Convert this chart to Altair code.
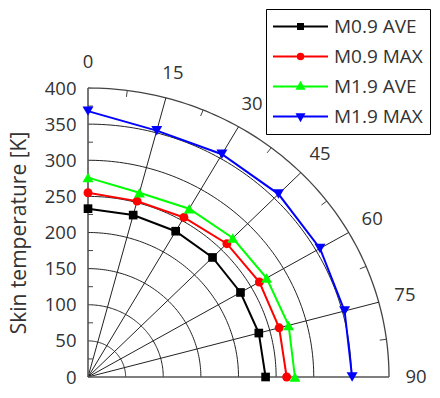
import altair as alt
import pandas as pd
import numpy as np

# ---- data ----
angles = [0, 15, 30, 45, 60, 75, 90]
series_names = ["M0.9 AVE", "M0.9 MAX", "M1.9 AVE", "M1.9 MAX"]
m09_ave = [233, 232, 233, 234, 234, 235, 236]
m09_max = [255, 252, 255, 261, 263, 263, 264]
m19_ave = [276, 264, 269, 272, 274, 276, 275]
m19_max = [368, 353, 356, 358, 356, 353, 351]
series_colors = ["#000000", "#ff0000", "#00ff00", "#0000ff"]
series_shapes = ["square", "circle", "triangle-up", "triangle-down"]
series_sizes = [75, 80, 120, 120]
radial_ticks = [0, 50, 100, 150, 200, 250, 300, 350, 400]
angle_ticks = [0, 15, 30, 45, 60, 75, 90]
minor_angles = [7.5, 22.5, 37.5, 52.5, 67.5, 82.5]
minor_radii = [25, 75, 125, 175, 225, 275, 325, 375]
legend_paths = [
    "M-3,0H3M-0.27,-0.27H0.27V0.27H-0.27Z",
    "M-3,0H3M0.3,0A0.3 0.3 0 1 1 -0.3,0A0.3 0.3 0 1 1 0.3,0Z",
    "M-3,0H3M0,-0.4L0.36,0.24L-0.36,0.24Z",
    "M-3,0H3M0,0.4L0.36,-0.24L-0.36,-0.24Z",
]

FONT = "Open Sans"
TXT = "#333333"
RMAX = 400

series_df = pd.DataFrame(
    [
        {"series": n, "a": a, "r": v}
        for n, vals in zip(series_names, [m09_ave, m09_max, m19_ave, m19_max])
        for a, v in zip(angles, vals)
    ]
)

arc_steps = list(np.arange(0, 90.01, 1.0))
inner_circ = pd.DataFrame([{"r": r, "a": a} for r in radial_ticks[1:-1] for a in arc_steps])
outer_circ = pd.DataFrame([{"r": RMAX, "a": a} for a in arc_steps])
spokes = pd.DataFrame([{"a": a, "r": r} for a in angle_ticks[1:-1] for r in (0, RMAX)])
axes_lines = pd.DataFrame([{"a": a, "r": r} for a in (0, 90) for r in (0, RMAX)])
arc_ticks = pd.DataFrame([{"a": a, "r": RMAX - 9, "r2": RMAX} for a in minor_angles])
left_ticks = pd.DataFrame({"r": minor_radii})
angle_labels = pd.DataFrame({"a": angle_ticks, "r": [436] * len(angle_ticks),
                             "label": [str(a) for a in angle_ticks]})

polar = dict(px="datum.r * sin(datum.a * PI / 180)", py="datum.r * cos(datum.a * PI / 180)")

xs = alt.Scale(domain=[0, RMAX], nice=False, zero=False)
ys = alt.Scale(domain=[0, RMAX], nice=False, zero=False)

yaxis = alt.Axis(
    values=radial_ticks, grid=False, domain=False, ticks=False, tickSize=0,
    labelFont=FONT, labelFontSize=18.5, labelColor=TXT, labelPadding=12,
    title="Skin temperature [K]", titleFont=FONT, titleFontSize=21,
    titleFontWeight="normal", titleColor=TXT, titlePadding=15,
)

X = alt.X("px:Q", scale=xs, axis=None)
Y = alt.Y("py:Q", scale=ys, axis=yaxis)

legend = alt.Legend(
    title=None, orient="none", legendX=178, legendY=-79,
    labelFont=FONT, labelFontSize=19, labelColor=TXT,
    symbolSize=336, symbolStrokeWidth=2, symbolOffset=17, labelOffset=23,
    symbolOpacity=1, rowPadding=9, padding=7,
    strokeColor="#000000", fillColor="#ffffff",
)

inner = alt.Chart(inner_circ).transform_calculate(**polar).mark_line(
    color="#222222", strokeWidth=1).encode(x=X, y=Y, detail="r:N", order="a:Q")
outer = alt.Chart(outer_circ).transform_calculate(**polar).mark_line(
    color="#444444", strokeWidth=1.3).encode(x=X, y=Y, order="a:Q")
spoke_layer = alt.Chart(spokes).transform_calculate(**polar).mark_line(
    color="#222222", strokeWidth=1).encode(x=X, y=Y, detail="a:N", order="r:Q")
axes_layer = alt.Chart(axes_lines).transform_calculate(**polar).mark_line(
    color="#555555", strokeWidth=1.6).encode(x=X, y=Y, detail="a:N", order="r:Q")
arc_tick_layer = alt.Chart(arc_ticks).transform_calculate(
    px="datum.r * sin(datum.a * PI / 180)", py="datum.r * cos(datum.a * PI / 180)",
    px2="datum.r2 * sin(datum.a * PI / 180)", py2="datum.r2 * cos(datum.a * PI / 180)",
).mark_rule(color="#444444", strokeWidth=1).encode(x=X, y=Y, x2="px2:Q", y2="py2:Q")
left_tick_layer = alt.Chart(left_ticks).transform_calculate(py="datum.r").mark_rule(
    color="#444444", strokeWidth=1).encode(y=Y, x=alt.value(0), x2=alt.value(5))

series_layers = []
for name, col, shp, sz in zip(series_names, series_colors, series_shapes, series_sizes):
    base = alt.Chart(series_df).transform_filter(alt.datum.series == name).transform_calculate(**polar)
    series_layers.append(base.mark_line(strokeWidth=2, color=col).encode(x=X, y=Y, order="a:Q"))
    series_layers.append(
        base.mark_point(filled=True, opacity=1, shape=shp, size=sz, color=col).encode(x=X, y=Y)
    )

# invisible layer that only carries the legend (line + marker symbols)
legend_layer = alt.Chart(series_df).transform_calculate(**polar).mark_point(
    filled=True, opacity=0).encode(
    x=X, y=Y,
    color=alt.Color("series:N", scale=alt.Scale(domain=series_names, range=series_colors),
                    legend=legend),
    stroke=alt.Stroke("series:N", scale=alt.Scale(domain=series_names, range=series_colors),
                      legend=legend),
    shape=alt.Shape("series:N", scale=alt.Scale(domain=series_names, range=legend_paths),
                    legend=legend),
)

labels = alt.Chart(angle_labels).transform_calculate(**polar).mark_text(
    font=FONT, fontSize=18.5, color=TXT, align="center", baseline="middle").encode(
    x=X, y=Y, text="label:N")

chart = alt.layer(
    inner, outer, spoke_layer, axes_layer, arc_tick_layer, left_tick_layer,
    *series_layers, labels, legend_layer,
).properties(width=301, height=289, padding=0).configure_view(stroke=None)

chart.save("out.html", embed_options={"renderer": "svg", "actions": False})
